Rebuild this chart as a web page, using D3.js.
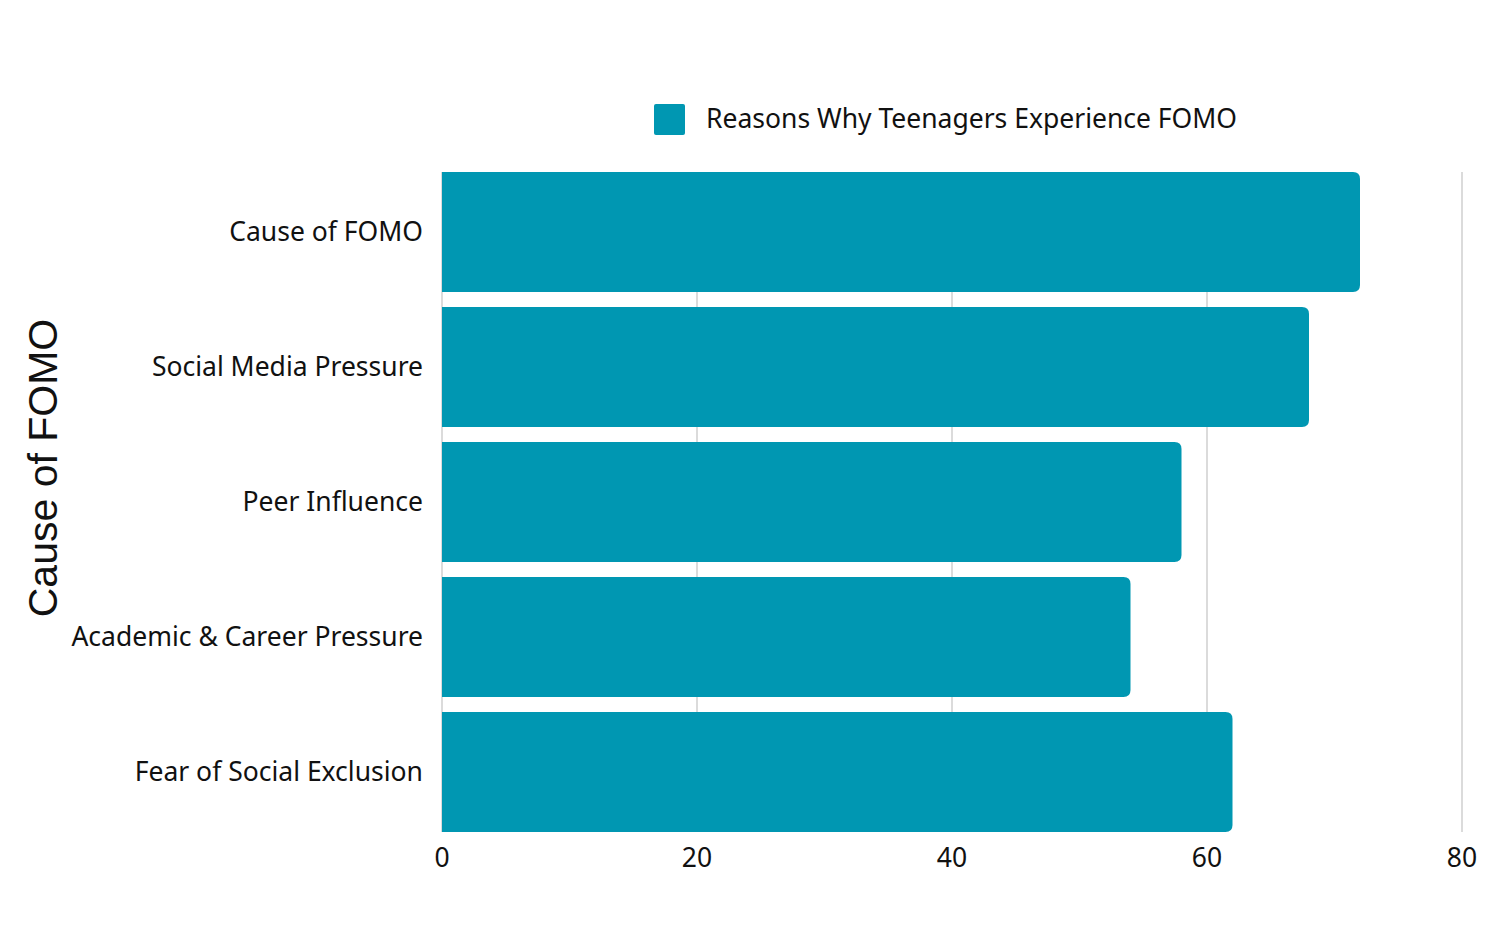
<!DOCTYPE html>
<html><head><meta charset="utf-8">
<script src="https://cdn.jsdelivr.net/npm/d3@7"></script>
<style>body{margin:0;background:#fff}</style>
</head><body>
<svg id="chart" width="1500" height="937"></svg>
<script>
const categories = ["Cause of FOMO","Social Media Pressure","Peer Influence","Academic & Career Pressure","Fear of Social Exclusion"];
const values = [72, 68, 58, 54, 62];
const xTicks = [0, 20, 40, 60, 80];
const seriesName = "Reasons Why Teenagers Experience FOMO";
const axisTitle = "Cause of FOMO";

const svg = d3.select("#chart");
const color = "#0097B2";
const x = d3.scaleLinear().domain([0, 80]).range([442, 1462]);
const y = d3.scaleBand().domain(categories).range([172, 832]).paddingInner(15/135).paddingOuter(0);

// grid
svg.append("g").selectAll("line").data(xTicks).join("line")
  .attr("x1", d => x(d)).attr("x2", d => x(d))
  .attr("y1", 172).attr("y2", 832)
  .attr("stroke", "#cfcfcf").attr("stroke-width", 1.5);

// bars with right rounded corners
const r = 7;
svg.append("g").selectAll("path").data(categories).join("path")
  .attr("fill", color)
  .attr("d", (c, i) => {
    const x0 = x(0), x1 = x(values[i]), y0 = y(c), h = y.bandwidth();
    return `M${x0},${y0}H${x1 - r}Q${x1},${y0} ${x1},${y0 + r}V${y0 + h - r}Q${x1},${y0 + h} ${x1 - r},${y0 + h}H${x0}Z`;
  });

// category labels
svg.append("g").selectAll("text").data(categories).join("text")
  .attr("x", 423).attr("y", c => y(c) + y.bandwidth() / 2)
  .attr("dy", "0.35em").attr("text-anchor", "end")
  .attr("font-family", "'Noto Sans', sans-serif").attr("font-size", 26.5).attr("fill", "#111")
  .text(c => c);

// x tick labels
svg.append("g").selectAll("text").data(xTicks).join("text")
  .attr("x", d => x(d)).attr("y", 867)
  .attr("text-anchor", "middle")
  .attr("font-family", "'Noto Sans', sans-serif").attr("font-size", 26.5).attr("fill", "#111")
  .text(d => d);

// y axis title
svg.append("text")
  .attr("transform", "translate(57,468) rotate(-90)")
  .attr("text-anchor", "middle")
  .attr("font-family", "'Liberation Sans', Arial, sans-serif").attr("font-size", 41).attr("fill", "#111")
  .text(axisTitle);

// legend
svg.append("rect").attr("x", 654).attr("y", 104).attr("width", 31).attr("height", 31).attr("rx", 2).attr("fill", color);
svg.append("text").attr("x", 706).attr("y", 119).attr("dy", "0.35em")
  .attr("font-family", "'Noto Sans', sans-serif").attr("font-size", 26.5).attr("fill", "#111")
  .text(seriesName);
</script>
</body></html>
